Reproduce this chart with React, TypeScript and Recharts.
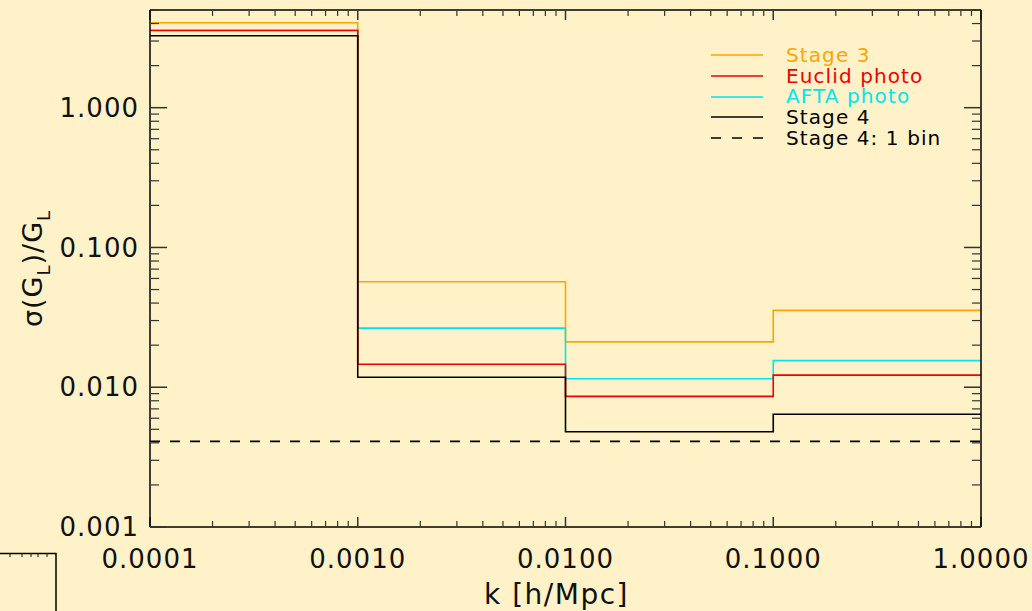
import { LineChart, Line, XAxis, YAxis, Label } from 'recharts';

// bin edges in k [h/Mpc]
const kEdges = [0.0001, 0.001, 0.01, 0.1, 1.0];

// sigma(G_L)/G_L per k bin
const stage3 = [4.05, 0.0569, 0.0211, 0.0355];
const euclidPhoto = [3.57, 0.0146, 0.0086, 0.0122];
const aftaPhoto = [3.58, 0.0265, 0.0115, 0.0155];
const stage4 = [3.27, 0.0118, 0.0048, 0.0064];
const stage4OneBin = 0.0041;

const xMajor = [0.0001, 0.001, 0.01, 0.1, 1.0];
const yMajor = [0.001, 0.01, 0.1, 1.0];

const series = [
  { key: 'stage3', name: 'Stage 3', color: '#ffa500', values: stage3 },
  { key: 'afta', name: 'AFTA photo', color: '#00e5ee', values: aftaPhoto },
  { key: 'euclid', name: 'Euclid photo', color: '#ee0000', values: euclidPhoto },
  { key: 'stage4', name: 'Stage 4', color: '#000000', values: stage4 },
];

const legendItems = [
  { name: 'Stage 3', color: '#ffa500', dashed: false },
  { name: 'Euclid photo', color: '#ee0000', dashed: false },
  { name: 'AFTA photo', color: '#00e5ee', dashed: false },
  { name: 'Stage 4', color: '#000000', dashed: false },
  { name: 'Stage 4: 1 bin', color: '#000000', dashed: true },
];

// step rows: last edge repeats the last bin value
const data = kEdges.map((k, i) => {
  const row: Record<string, number> = { k, oneBin: stage4OneBin };
  series.forEach((s) => {
    row[s.key] = s.values[Math.min(i, s.values.length - 1)];
  });
  return row;
});

function minorTicks(lo: number, hi: number) {
  const out: number[] = [];
  for (let d = lo; d < hi * 1.0001; d *= 10) {
    for (let m = 2; m <= 9; m++) {
      const v = m * d;
      if (v <= hi * 1.0001) out.push(v);
    }
  }
  return out;
}

const xMinor = minorTicks(0.0001, 1.0);
const yMinor = minorTicks(0.001, 5);

const font = '"DejaVu Sans", sans-serif';
const tickColor = '#333';
const blank = () => '';

function LegendBox() {
  return (
    <div
      style={{
        position: 'absolute',
        left: 711,
        top: 45,
        fontFamily: font,
        fontSize: 20,
        letterSpacing: 1.1,
        lineHeight: '20.7px',
      }}
    >
      {legendItems.map((it) => (
        <div key={it.name} style={{ display: 'flex', alignItems: 'center', height: 20.7 }}>
          <svg width={52} height={4} style={{ marginRight: 23 }}>
            <line
              x1={0}
              y1={2}
              x2={52}
              y2={2}
              stroke={it.color}
              strokeWidth={1.5}
              strokeDasharray={it.dashed ? '10 11' : undefined}
            />
          </svg>
          <span style={{ color: it.color }}>{it.name}</span>
        </div>
      ))}
    </div>
  );
}

function YTitle(props: any) {
  const vb = props.viewBox || {};
  const cy = (vb.y ?? 10) + (vb.height ?? 517) / 2;
  const cx = 42;
  return (
    <text
      x={cx}
      y={cy}
      transform={`rotate(-90 ${cx} ${cy})`}
      textAnchor="middle"
      fontFamily={font}
      fontSize={27}
      letterSpacing={1}
      fill="#111"
    >
      σ(G<tspan fontSize={18} dy={8}>L</tspan>
      <tspan dy={-8}>)/G</tspan>
      <tspan fontSize={18} dy={8}>L</tspan>
    </text>
  );
}

export default function App() {
  const axisCommon = {
    type: 'number' as const,
    scale: 'log' as const,
    allowDataOverflow: true,
    interval: 0 as const,
  };
  // inward tick marks: mirrored axes with blank labels
  const xTickAxes = [
    { id: 'xB', orientation: 'bottom' as const, ticks: xMajor, size: 10, w: 1.5 },
    { id: 'xBm', orientation: 'bottom' as const, ticks: xMinor, size: 5, w: 1.2 },
    { id: 'xT', orientation: 'top' as const, ticks: xMajor, size: 10, w: 1.5 },
    { id: 'xTm', orientation: 'top' as const, ticks: xMinor, size: 5, w: 1.2 },
  ];
  const yTickAxes = [
    { id: 'yL', orientation: 'left' as const, ticks: yMajor, size: 17, w: 1.5 },
    { id: 'yLm', orientation: 'left' as const, ticks: yMinor, size: 8, w: 1.2 },
    { id: 'yR', orientation: 'right' as const, ticks: yMajor, size: 17, w: 1.5 },
    { id: 'yRm', orientation: 'right' as const, ticks: yMinor, size: 8, w: 1.2 },
  ];
  return (
    <div style={{ position: 'absolute', left: 0, top: 0, width: 1032, height: 611, background: '#fff2c8' }}>
      <LineChart
        width={1032}
        height={611}
        data={data}
        margin={{ top: 10, right: 51, bottom: 83, left: 149 }}
      >
        <XAxis
          {...axisCommon}
          xAxisId="x"
          dataKey="k"
          domain={[0.0001, 1.0]}
          ticks={xMajor}
          height={1}
          tickSize={0}
          tickMargin={23}
          tickFormatter={(v: number) => v.toFixed(4)}
          tick={{ fontFamily: font, fontSize: 26, fill: '#111', letterSpacing: 1 }}
          axisLine={{ stroke: '#000', strokeWidth: 1.5 }}
          tickLine={false}
        >
          <Label
            value="k [h/Mpc]"
            position="insideBottom"
            offset={-76}
            fontFamily={font}
            fontSize={28}
            letterSpacing={1.5}
            fill="#111"
            dx={-9}
          />
        </XAxis>
        {xTickAxes.map((a) => (
          <XAxis
            key={a.id}
            {...axisCommon}
            xAxisId={a.id}
            dataKey="k"
            orientation={a.orientation}
            mirror
            domain={[0.0001, 1.0]}
            ticks={a.ticks}
            height={1}
            tickSize={a.size}
            tickFormatter={blank}
            axisLine={a.orientation === 'top' && a.size === 10 ? { stroke: '#000', strokeWidth: 1.5 } : false}
            tickLine={{ stroke: tickColor, strokeWidth: a.w }}
          />
        ))}

        <YAxis
          {...axisCommon}
          yAxisId="y"
          domain={[0.001, 5]}
          ticks={yMajor}
          width={1}
          tickSize={0}
          tickMargin={11}
          tickFormatter={(v: number) => v.toFixed(3)}
          tick={{ fontFamily: font, fontSize: 26, fill: '#111', letterSpacing: 1 }}
          axisLine={{ stroke: '#000', strokeWidth: 1.5 }}
          tickLine={false}
        >
          <Label content={<YTitle />} />
        </YAxis>
        {yTickAxes.map((a) => (
          <YAxis
            key={a.id}
            {...axisCommon}
            yAxisId={a.id}
            orientation={a.orientation}
            mirror
            domain={[0.001, 5]}
            ticks={a.ticks}
            width={1}
            tickSize={a.size}
            tickFormatter={blank}
            axisLine={a.orientation === 'right' && a.size === 17 ? { stroke: '#000', strokeWidth: 1.5 } : false}
            tickLine={{ stroke: tickColor, strokeWidth: a.w }}
          />
        ))}

        {series.map((s) => (
          <Line
            key={s.key}
            xAxisId="x"
            yAxisId="y"
            type="stepAfter"
            dataKey={s.key}
            name={s.name}
            stroke={s.color}
            strokeWidth={1.6}
            dot={false}
            activeDot={false}
            isAnimationActive={false}
          />
        ))}
        <Line
          xAxisId="x"
          yAxisId="y"
          type="linear"
          dataKey="oneBin"
          name="Stage 4: 1 bin"
          stroke="#000"
          strokeWidth={1.6}
          strokeDasharray="10 10"
          dot={false}
          activeDot={false}
          isAnimationActive={false}
        />
      </LineChart>

      <LegendBox />

      {/* leftover frame corner at bottom-left */}
      <svg
        width={60}
        height={60}
        style={{ position: 'absolute', left: 0, top: 552 }}
      >
        <polyline points="0,1.5 56,1.5 56,60" fill="none" stroke="#000" strokeWidth={1.5} />
        {[10, 22, 31, 38, 47].map((x) => (
          <line key={x} x1={x} y1={1.5} x2={x} y2={5} stroke={tickColor} strokeWidth={1.2} />
        ))}
      </svg>
    </div>
  );
}
